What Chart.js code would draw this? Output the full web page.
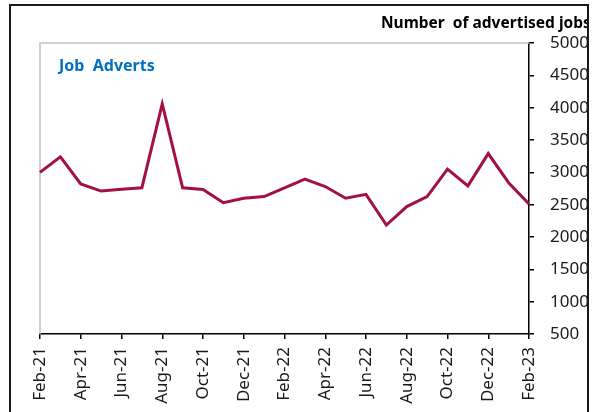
<!DOCTYPE html>
<html>
<head>
<meta charset="utf-8">
<script src="https://cdn.jsdelivr.net/npm/chart.js@4"></script>
<style>
  html, body { margin: 0; padding: 0; background: #fff; overflow: hidden; }
  #marco {
    position: absolute; left: 9px; top: 4px;
    width: 576px; height: 420px;
    border: 2px solid #1a1a1a; overflow: hidden;
  }
  #grafico { position: absolute; left: 0; top: 0; }
</style>
</head>
<body>
<div id="marco"><canvas id="grafico" width="600" height="406"></canvas></div>
<script>
const meses = [
  "Feb-21", "Mar-21", "Apr-21", "May-21", "Jun-21", "Jul-21", "Aug-21",
  "Sep-21", "Oct-21", "Nov-21", "Dec-21", "Jan-22", "Feb-22", "Mar-22",
  "Apr-22", "May-22", "Jun-22", "Jul-22", "Aug-22", "Sep-22", "Oct-22",
  "Nov-22", "Dec-22", "Jan-23", "Feb-23"
];
const anuncios = [
  3000, 3240, 2820, 2710, 2740, 2760, 4060,
  2760, 2735, 2530, 2600, 2625, 2760, 2895,
  2780, 2600, 2660, 2185, 2470, 2625, 3050,
  2790, 3290, 2840, 2510
];
const titulo = "Number  of advertised jobs";
const etiquetaSerie = "Job  Adverts";

const fuente = "'Noto Sans', 'Open Sans', sans-serif";

// borde gris arriba e izquierda del area del grafico, y los textos
const decoracion = {
  id: "decoracion",
  beforeDatasetsDraw(chart) {
    const { ctx, chartArea: a } = chart;
    ctx.save();
    ctx.strokeStyle = "#c0c0c0";
    ctx.lineWidth = 1.5;
    ctx.beginPath();
    ctx.moveTo(a.left, a.bottom);
    ctx.lineTo(a.left, a.top);
    ctx.lineTo(a.right, a.top);
    ctx.stroke();
    ctx.restore();
  },
  afterDraw(chart) {
    const ctx = chart.ctx;
    ctx.save();
    ctx.textBaseline = "alphabetic";
    ctx.textAlign = "left";
    ctx.fillStyle = "#000";
    ctx.font = "bold 15.5px " + fuente;
    ctx.fillText(titulo, 370, 22);
    ctx.fillStyle = "#0070C0";
    ctx.font = "bold 16px " + fuente;
    ctx.fillText(etiquetaSerie, 48, 65);
    ctx.restore();
  }
};

new Chart(document.getElementById("grafico"), {
  type: "line",
  data: {
    labels: meses,
    datasets: [{
      label: "Job Adverts",
      data: anuncios,
      borderColor: "#A3123F",
      borderWidth: 3,
      pointRadius: 0,
      tension: 0
    }]
  },
  options: {
    responsive: false,
    animation: false,
    devicePixelRatio: 1,
    layout: { padding: { left: 29, top: 37, right: 0, bottom: 0 } },
    plugins: {
      legend: { display: false },
      tooltip: { enabled: false }
    },
    scales: {
      x: {
        type: "category",
        offset: false,
        afterBuildTicks: (scale) => {
          scale.ticks = scale.ticks.filter((t, i) => i % 2 === 0);
        },
        afterFit: (scale) => { scale.height = 78; },
        grid: { drawOnChartArea: false, tickLength: 5, color: "#000", lineWidth: 1.5 },
        border: { color: "#000", width: 1.5 },
        ticks: {
          autoSkip: false,
          minRotation: 90,
          maxRotation: 90,
          padding: 8,
          color: "#1a1a1a",
          font: { family: fuente, size: 17 }
        }
      },
      y: {
        position: "right",
        min: 500,
        max: 5000,
        afterFit: (scale) => { scale.width = 82; },
        grid: { drawOnChartArea: false, tickLength: 5, color: "#000", lineWidth: 1.5 },
        border: { color: "#000", width: 1.5 },
        ticks: {
          stepSize: 500,
          padding: 16,
          color: "#1a1a1a",
          font: { family: fuente, size: 17 },
          callback: (v) => String(v)
        }
      }
    }
  },
  plugins: [decoracion]
});
</script>
</body>
</html>
